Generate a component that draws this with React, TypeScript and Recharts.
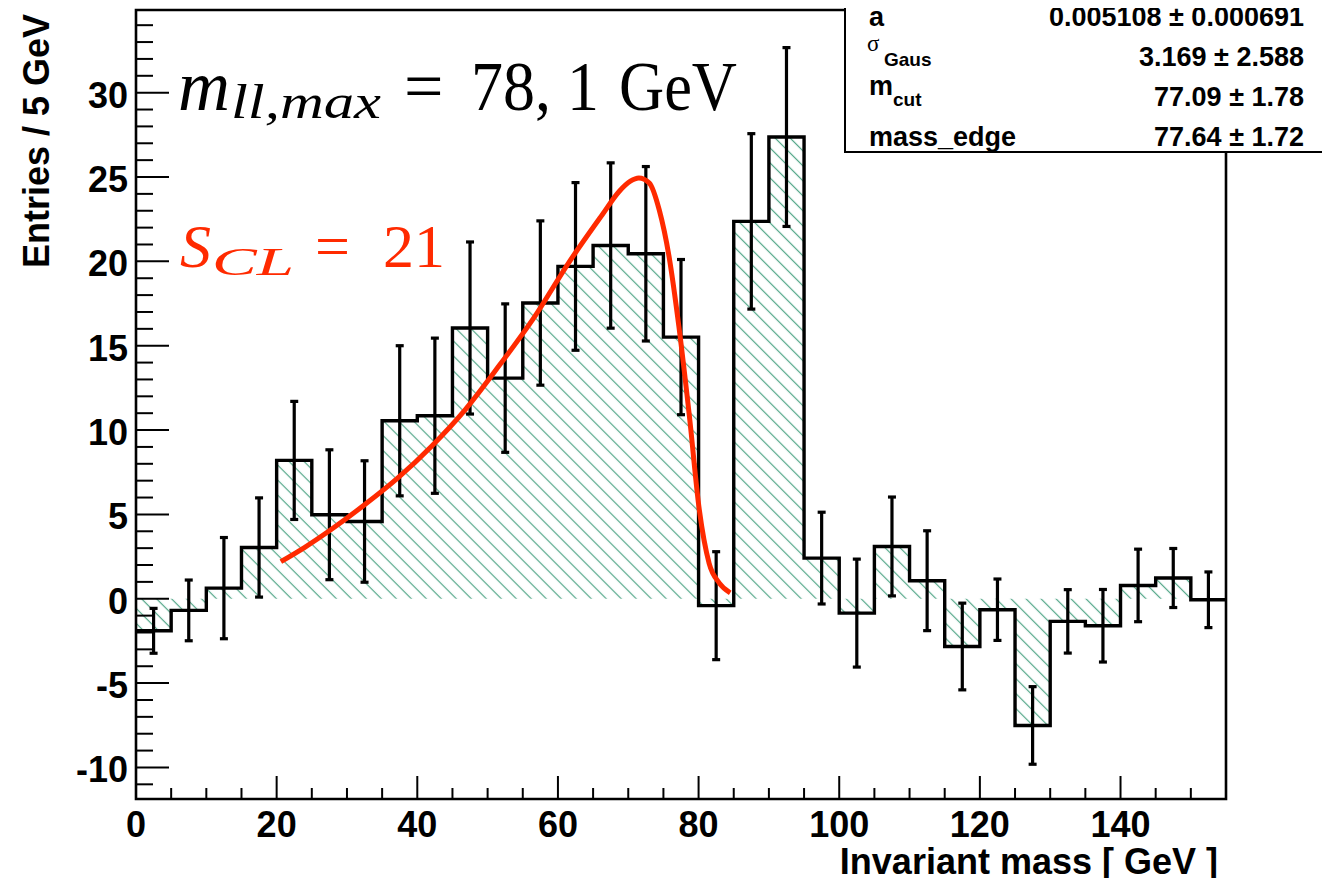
import React from 'react';
import {
  ComposedChart,
  Area,
  Line,
  Scatter,
  ErrorBar,
  XAxis,
  YAxis,
  ReferenceArea,
} from 'recharts';

// bin centres of the 5 GeV histogram
const binCenters = [
  2.5, 7.5, 12.5, 17.5, 22.5, 27.5, 32.5, 37.5, 42.5, 47.5, 52.5, 57.5, 62.5, 67.5, 72.5, 77.5,
  82.5, 87.5, 92.5, 97.5, 102.5, 107.5, 112.5, 117.5, 122.5, 127.5, 132.5, 137.5, 142.5, 147.5, 152.5,
];
const entries = [
  -1.9, -0.69, 0.63, 3.04, 8.2, 4.98, 4.58, 10.55, 10.85, 16.05, 13.08, 17.53, 19.7, 20.94, 20.45, 15.51,
  -0.41, 22.37, 27.37, 2.41, -0.85, 3.1, 1.07, -2.83, -0.65, -7.51, -1.34, -1.6, 0.79, 1.23, -0.06,
];
const entryErrors = [
  1.33, 1.8, 3.0, 2.94, 3.5, 3.85, 3.6, 4.45, 4.6, 5.1, 4.4, 4.87, 4.97, 4.9, 5.17, 4.6,
  3.2, 5.2, 5.3, 2.72, 3.2, 2.93, 2.96, 2.57, 1.82, 2.3, 1.88, 2.15, 2.15, 1.75, 1.65,
];

// fitted edge function (red curve)
const fitMass = [
  20.6, 24.0, 27.7, 32.5, 37.2, 42.0, 46.8, 51.7, 56.5, 61.5, 66.3, 68.7, 70.3, 71.5, 73.0, 74.4,
  75.8, 77.2, 78.7, 80.1, 81.5, 82.95, 84.5,
];
const fitValue = [
  2.2, 3.05, 4.09, 5.57, 7.15, 9.03, 11.2, 13.85, 16.6, 19.9, 22.76, 24.14, 24.75, 24.94, 24.64, 23.06,
  20.29, 16.14, 10.8, 5.28, 2.1, 0.93, 0.35,
];

const xMajorTicks = [0, 20, 40, 60, 80, 100, 120, 140];
const yMajorTicks = [-10, -5, 0, 5, 10, 15, 20, 25, 30];

const statRows = [
  { label: 'a', sub: '', value: '0.005108 ± 0.000691' },
  { label: 'σ', sub: 'Gaus', value: '3.169 ± 2.588' },
  { label: 'm', sub: 'cut', value: '77.09 ± 1.78' },
  { label: 'mass_edge', sub: '', value: '77.64 ± 1.72' },
];

const BIN_WIDTH = 5;
const X_MAX = 155;
const Y_MIN = -11.87;
const Y_MAX = 34.9;

const W = 1314;
const H = 870;
const PLOT_LEFT = 128;
const PLOT_BOTTOM = 791;
const SANS = '"Liberation Sans", Arial, Helvetica, sans-serif';
const SERIF = '"Liberation Serif", "Times New Roman", serif';
const RED = '#ff2a00';

const xTicks = Array.from({ length: 31 }, (_, i) => i * 5);
const yTicks = Array.from({ length: 46 }, (_, i) => i - 11);

const histPoints = binCenters
  .map((c, i) => ({ x: c - BIN_WIDTH / 2, y: entries[i] }))
  .concat([{ x: X_MAX, y: entries[entries.length - 1] }]);
const errPoints = binCenters.map((c, i) => ({ x: c, y: entries[i], err: entryErrors[i] }));
const fitPoints = fitMass.map((m, i) => ({ x: m, y: fitValue[i] }));

const XTick = (props: any) => {
  const { x, payload } = props;
  const major = xMajorTicks.includes(payload.value);
  return (
    <g>
      <line x1={x} x2={x} y1={PLOT_BOTTOM} y2={PLOT_BOTTOM - (major ? 23 : 11)} stroke="#000" strokeWidth={2} />
      {major && (
        <text x={x} y={829} textAnchor="middle" fontFamily={SANS} fontWeight="bold" fontSize={36} fill="#000">
          {payload.value}
        </text>
      )}
    </g>
  );
};

const YTick = (props: any) => {
  const { y, payload } = props;
  const major = yMajorTicks.includes(payload.value);
  return (
    <g>
      <line x1={PLOT_LEFT} x2={PLOT_LEFT + (major ? 33 : 17)} y1={y} y2={y} stroke="#000" strokeWidth={2} />
      {major && (
        <text x={120} y={y + 15} textAnchor="end" fontFamily={SANS} fontWeight="bold" fontSize={36} fill="#000">
          {payload.value}
        </text>
      )}
    </g>
  );
};

const NoDot = () => <g />;

const Overlay = () => (
  <svg
    width={1330}
    height={886}
    style={{ position: 'absolute', left: -8, top: -8, pointerEvents: 'none' }}
  >
    {/* axis titles */}
    <text x={1218} y={874} textAnchor="end" fontFamily={SANS} fontWeight="bold" fontSize={36}>
      Invariant mass [ GeV ]
    </text>
    <text
      x={49}
      y={14}
      transform="rotate(-90 49 14)"
      textAnchor="end"
      fontFamily={SANS}
      fontWeight="bold"
      fontSize={36}
    >
      Entries / 5 GeV
    </text>

    {/* m_ll,max annotation */}
    <g fontFamily={SERIF} fill="#000">
      <text x={178} y={110} fontStyle="italic" fontSize={72}>m</text>
      <text x={231} y={118} fontStyle="italic" fontSize={48} textLength={150} lengthAdjust="spacingAndGlyphs">
        ll,max
      </text>
      <text x={404} y={110} fontSize={70}>=</text>
      <text x={471} y={110} fontSize={70} textLength={128} lengthAdjust="spacingAndGlyphs">78, 1</text>
      <text x={619} y={110} fontSize={70} textLength={118} lengthAdjust="spacingAndGlyphs">GeV</text>
    </g>

    {/* S_CL annotation */}
    <g fontFamily={SERIF} fill={RED}>
      <text x={180} y={267} fontStyle="italic" fontSize={62}>S</text>
      <text x={212} y={275} fontStyle="italic" fontSize={40} textLength={82} lengthAdjust="spacingAndGlyphs">CL</text>
      <text x={315} y={267} fontSize={62}>=</text>
      <text x={383} y={267} fontSize={62}>21</text>
    </g>

    {/* fit statistics box */}
    <rect x={845} y={-4} width={500} height={156} fill="#fff" stroke="#000" strokeWidth={2} />
    <g fontFamily={SANS} fontWeight="bold" fontSize={27} fill="#000">
      {statRows.map((r, i) => {
        const base = 26 + i * 40;
        return (
          <g key={r.value}>
            {r.label === 'σ' ? (
              <text x={867} y={base - 15} fontFamily={SERIF} fontWeight="normal" fontSize={23}>σ</text>
            ) : (
              <text x={869} y={r.sub ? base - 11 : base}>{r.label}</text>
            )}
            {r.sub && (
              <text x={r.label === 'σ' ? 884 : 893} y={base} fontSize={19}>
                {r.sub}
              </text>
            )}
            <text x={1304} y={base} textAnchor="end">
              {r.value}
            </text>
          </g>
        );
      })}
    </g>
  </svg>
);

const App: React.FC = () => {
  return (
    <div style={{ position: 'relative', width: W, height: H }}>
      <ComposedChart width={W} height={H} margin={{ top: 2, right: 96, bottom: 0, left: 0 }}>
        <defs>
          <pattern id="hatch" patternUnits="userSpaceOnUse" width={10.6} height={10.6} patternTransform="rotate(-45)">
            <line x1={5.3} y1={0} x2={5.3} y2={10.6} stroke="#4fa585" strokeWidth={1.2} />
          </pattern>
        </defs>
        <XAxis
          type="number"
          dataKey="x"
          domain={[0, X_MAX]}
          ticks={xTicks}
          interval={0}
          tick={XTick}
          tickLine={false}
          axisLine={false}
          height={79}
          allowDataOverflow
        />
        <YAxis
          type="number"
          dataKey="y"
          domain={[Y_MIN, Y_MAX]}
          ticks={yTicks}
          interval={0}
          tick={YTick}
          tickLine={false}
          axisLine={false}
          width={128}
          allowDataOverflow
        />
        <Area
          data={histPoints}
          dataKey="y"
          type="stepAfter"
          baseValue={0}
          fill="url(#hatch)"
          fillOpacity={1}
          stroke="#000"
          strokeWidth={3.4}
          dot={false}
          activeDot={false}
          isAnimationActive={false}
        />
        <Scatter data={errPoints} dataKey="y" shape={NoDot} isAnimationActive={false}>
          <ErrorBar dataKey="err" direction="y" width={4} stroke="#000" strokeWidth={3.2} isAnimationActive={false} />
        </Scatter>
        <Line
          data={fitPoints}
          dataKey="y"
          type="monotone"
          stroke={RED}
          strokeWidth={5}
          dot={false}
          activeDot={false}
          isAnimationActive={false}
        />
        <ReferenceArea
          x1={0}
          x2={X_MAX}
          y1={Y_MIN}
          y2={Y_MAX}
          fill="none"
          stroke="#000"
          strokeWidth={2.6}
          ifOverflow="visible"
        />
      </ComposedChart>
      <Overlay />
    </div>
  );
};

export default App;
